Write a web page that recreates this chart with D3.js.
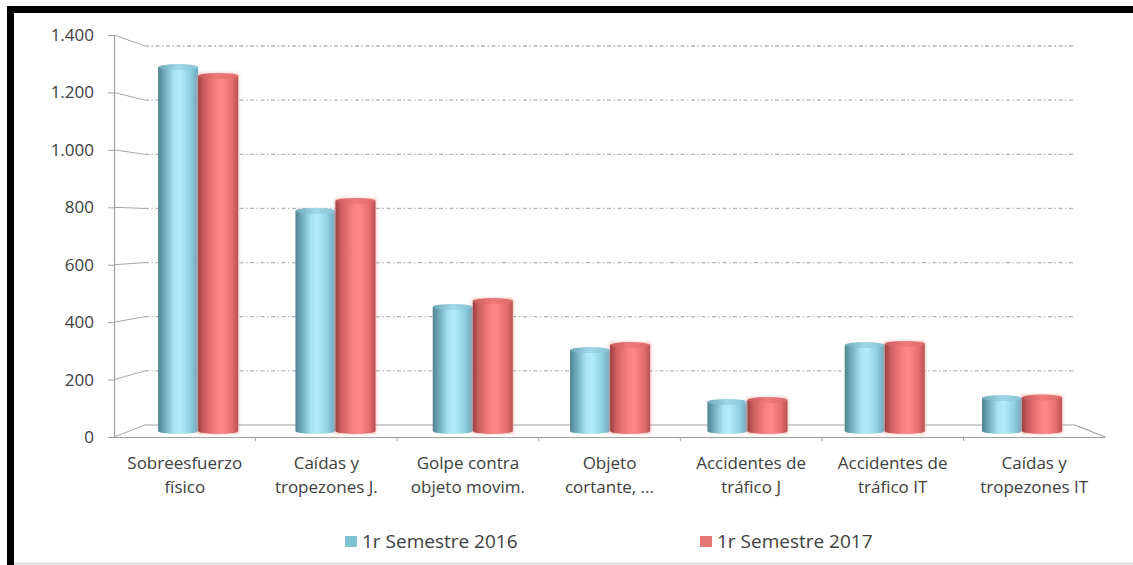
<!DOCTYPE html>
<html>
<head>
<meta charset="utf-8">
<script src="https://cdn.jsdelivr.net/npm/d3@7"></script>
<style>
  html, body { margin: 0; padding: 0; background: #fff; }
  svg { display: block; }
  text { font-family: "Open Sans", "Noto Sans", sans-serif; fill: #404040; }
</style>
</head>
<body>
<svg id="chart" width="1133" height="565"></svg>
<script>
// ---- data ----
const categories = ["Sobreesfuerzo físico", "Caídas y tropezones J.", "Golpe contra objeto movim.",
  "Objeto cortante, ...", "Accidentes de tráfico J", "Accidentes de tráfico IT", "Caídas y tropezones IT"];
const categoryLines = [["Sobreesfuerzo", "físico"], ["Caídas y", "tropezones J."], ["Golpe contra", "objeto movim."],
  ["Objeto", "cortante, ..."], ["Accidentes de", "tráfico J"], ["Accidentes de", "tráfico IT"], ["Caídas y", "tropezones IT"]];
const seriesNames = ["1r Semestre 2016", "1r Semestre 2017"];
const values2016 = [1305, 789, 445, 290, 104, 308, 118];
const values2017 = [1273, 825, 466, 308, 111, 312, 120];
const tickValues = [0, 200, 400, 600, 800, 1000, 1200, 1400];
const tickLabels = ["0", "200", "400", "600", "800", "1.000", "1.200", "1.400"];

const seriesValues = [values2016, values2017];

// ---- layout ----
const svg = d3.select("#chart");
const W = 1133, H = 565;

// frame
svg.append("rect").attr("x", 0).attr("y", 0).attr("width", W).attr("height", H).attr("fill", "#fff");
svg.append("rect").attr("x", 7).attr("y", 6).attr("width", W - 7).attr("height", 7).attr("fill", "#000");
svg.append("rect").attr("x", 7).attr("y", 6).attr("width", 7).attr("height", H - 6).attr("fill", "#000");
svg.append("line").attr("x1", 14).attr("x2", W).attr("y1", 563.5).attr("y2", 563.5).attr("stroke", "#dcdcdc").attr("stroke-width", 2);

// scales (pseudo-3D: front plane, back wall, mid depth for bars)
const domainMax = 1400;
const yFront = d3.scaleLinear().domain([0, domainMax]).range([437, 35]);
const yBack = d3.scaleLinear().domain([0, domainMax]).range([425, 46]);
const yMid = d3.scaleLinear().domain([0, domainMax]).range([431, 40.5]);
const xFront = d3.scaleBand().domain(categories).range([114, 1105]).padding(0);
const xBack = [145, 1075];
const xMid = d3.scaleBand().domain(categories).range([129.5, 1090.7]).paddingInner(0.417).paddingOuter(0.2085);
const xSeries = d3.scaleBand().domain(seriesNames).range([0, xMid.bandwidth()]).padding(0);
const colors = { "1r Semestre 2016": "#7fc3d3", "1r Semestre 2017": "#e57575" };

// gradients
const defs = svg.append("defs");
function grad(id, stops) {
  const g = defs.append("linearGradient").attr("id", id).attr("x1", "0%").attr("x2", "100%").attr("y1", "0%").attr("y2", "0%");
  stops.forEach(s => g.append("stop").attr("offset", s[0]).attr("stop-color", s[1]));
}
grad("gBlue", [["0%", "#4f8190"], ["15%", "#6ea9ba"], ["40%", "#a9e4f4"], ["55%", "#b3ecfa"], ["80%", "#8fd0e2"], ["100%", "#6aa6b7"]]);
grad("gRed", [["0%", "#9c4040"], ["15%", "#cf5f5f"], ["45%", "#fb8080"], ["60%", "#ff8787"], ["85%", "#e56d6d"], ["100%", "#b85252"]]);
grad("gBlueTop", [["0%", "#6fa8b8"], ["50%", "#9fd8e8"], ["100%", "#84c2d4"]]);
grad("gRedTop", [["0%", "#c85a5a"], ["50%", "#f07a7a"], ["100%", "#dc6868"]]);
const glow = defs.append("filter").attr("id", "glow").attr("x", "-20%").attr("y", "-5%").attr("width", "140%").attr("height", "110%");
glow.append("feGaussianBlur").attr("stdDeviation", 1.6);

// back wall gridlines
const grid = svg.append("g");
grid.selectAll("line.grid").data(tickValues.filter(v => v > 0)).join("line")
  .attr("x1", xBack[0]).attr("x2", xBack[1] - 2)
  .attr("y1", d => yBack(d)).attr("y2", d => yBack(d))
  .attr("stroke", "#b4b4b4").attr("stroke-width", 1.3).attr("stroke-dasharray", "4,2.5,1.5,2.5");
// connectors from front ticks to back wall
grid.selectAll("line.conn").data(tickValues).join("line")
  .attr("x1", 114).attr("x2", xBack[0])
  .attr("y1", d => yFront(d)).attr("y2", d => yBack(d))
  .attr("stroke", "#a8a8a8").attr("stroke-width", 1);

// floor
const floor = svg.append("g").attr("stroke", "#a0a0a0").attr("fill", "none").attr("stroke-width", 1.2);
floor.append("line").attr("x1", xBack[0]).attr("x2", xBack[1]).attr("y1", yBack(0)).attr("y2", yBack(0));
floor.append("line").attr("x1", xBack[1]).attr("x2", 1105).attr("y1", yBack(0)).attr("y2", yFront(0));

// y axis (front)
const yAxis = d3.axisLeft(yFront).tickValues(tickValues)
  .tickFormat((d, i) => tickLabels[i]).tickSize(6).tickSizeOuter(0).tickPadding(14);
const yg = svg.append("g").attr("transform", "translate(114,0)").call(yAxis);
yg.select(".domain").attr("stroke", "#a0a0a0").attr("stroke-width", 1.2);
yg.selectAll(".tick line").attr("stroke", "#a0a0a0");
yg.selectAll(".tick text").attr("font-size", 17).attr("fill", "#404040")
  .style("font-family", '"Open Sans", "Noto Sans", sans-serif');

// bars (cylinders)
const ry = 3;
const groups = svg.append("g").selectAll("g.cat").data(categories).join("g")
  .attr("transform", d => `translate(${xMid(d)},0)`);
seriesNames.forEach((s, si) => {
  const isBlue = si === 0;
  const bw = xSeries.bandwidth();
  const g = groups.append("g").attr("transform", `translate(${xSeries(s)},0)`);
  if (!isBlue) {
    g.append("rect").attr("x", -1).attr("width", bw + 2)
      .attr("y", (d, i) => yMid(seriesValues[si][i]) - ry)
      .attr("height", (d, i) => yMid(0) - yMid(seriesValues[si][i]) + 2 * ry)
      .attr("rx", 3).attr("fill", "#f4a0a0").attr("opacity", 0.6).attr("filter", "url(#glow)");
  }
  g.append("ellipse").attr("cx", bw / 2).attr("cy", yMid(0)).attr("rx", bw / 2).attr("ry", ry)
    .attr("fill", isBlue ? "url(#gBlue)" : "url(#gRed)");
  g.append("rect").attr("x", 0).attr("width", bw)
    .attr("y", (d, i) => yMid(seriesValues[si][i]))
    .attr("height", (d, i) => yMid(0) - yMid(seriesValues[si][i]))
    .attr("fill", isBlue ? "url(#gBlue)" : "url(#gRed)");
  g.append("ellipse").attr("cx", bw / 2).attr("rx", bw / 2).attr("ry", ry)
    .attr("cy", (d, i) => yMid(seriesValues[si][i]))
    .attr("fill", isBlue ? "url(#gBlueTop)" : "url(#gRedTop)");
});

// front floor edge / category axis
const xAxis = d3.axisBottom(xFront).tickSize(0).tickSizeOuter(0).tickFormat("");
const xg = svg.append("g").attr("transform", `translate(0,${yFront(0)})`).call(xAxis);
xg.select(".domain").attr("stroke", "#a0a0a0").attr("stroke-width", 1.2);
xg.selectAll(".tick").remove();
xg.selectAll("line.sep").data(categories.slice(1)).join("line")
  .attr("x1", d => xFront(d)).attr("x2", d => xFront(d)).attr("y1", 0).attr("y2", 4)
  .attr("stroke", "#a0a0a0");
const labels = xg.selectAll("text.cat").data(categories).join("text")
  .attr("class", "cat")
  .attr("x", d => xFront(d) + xFront.bandwidth() / 2)
  .attr("y", 32).attr("text-anchor", "middle").attr("font-size", 17).attr("fill", "#404040");
labels.selectAll("tspan").data((d, i) => categoryLines[i]).join("tspan")
  .attr("x", function () { return d3.select(this.parentNode).attr("x"); })
  .attr("dy", (d, i) => i === 0 ? 0 : 24).text(d => d);

// legend
const legendX = d3.scalePoint().domain(seriesNames).range([345, 700]);
const lg = svg.append("g").selectAll("g").data(seriesNames).join("g")
  .attr("transform", d => `translate(${legendX(d)},542)`);
lg.append("rect").attr("x", 0).attr("y", -6).attr("width", 12).attr("height", 11).attr("fill", d => colors[d]);
lg.append("text").attr("x", 17).attr("y", 6).attr("font-size", 19).attr("fill", "#404040").text(d => d);
</script>
</body>
</html>
